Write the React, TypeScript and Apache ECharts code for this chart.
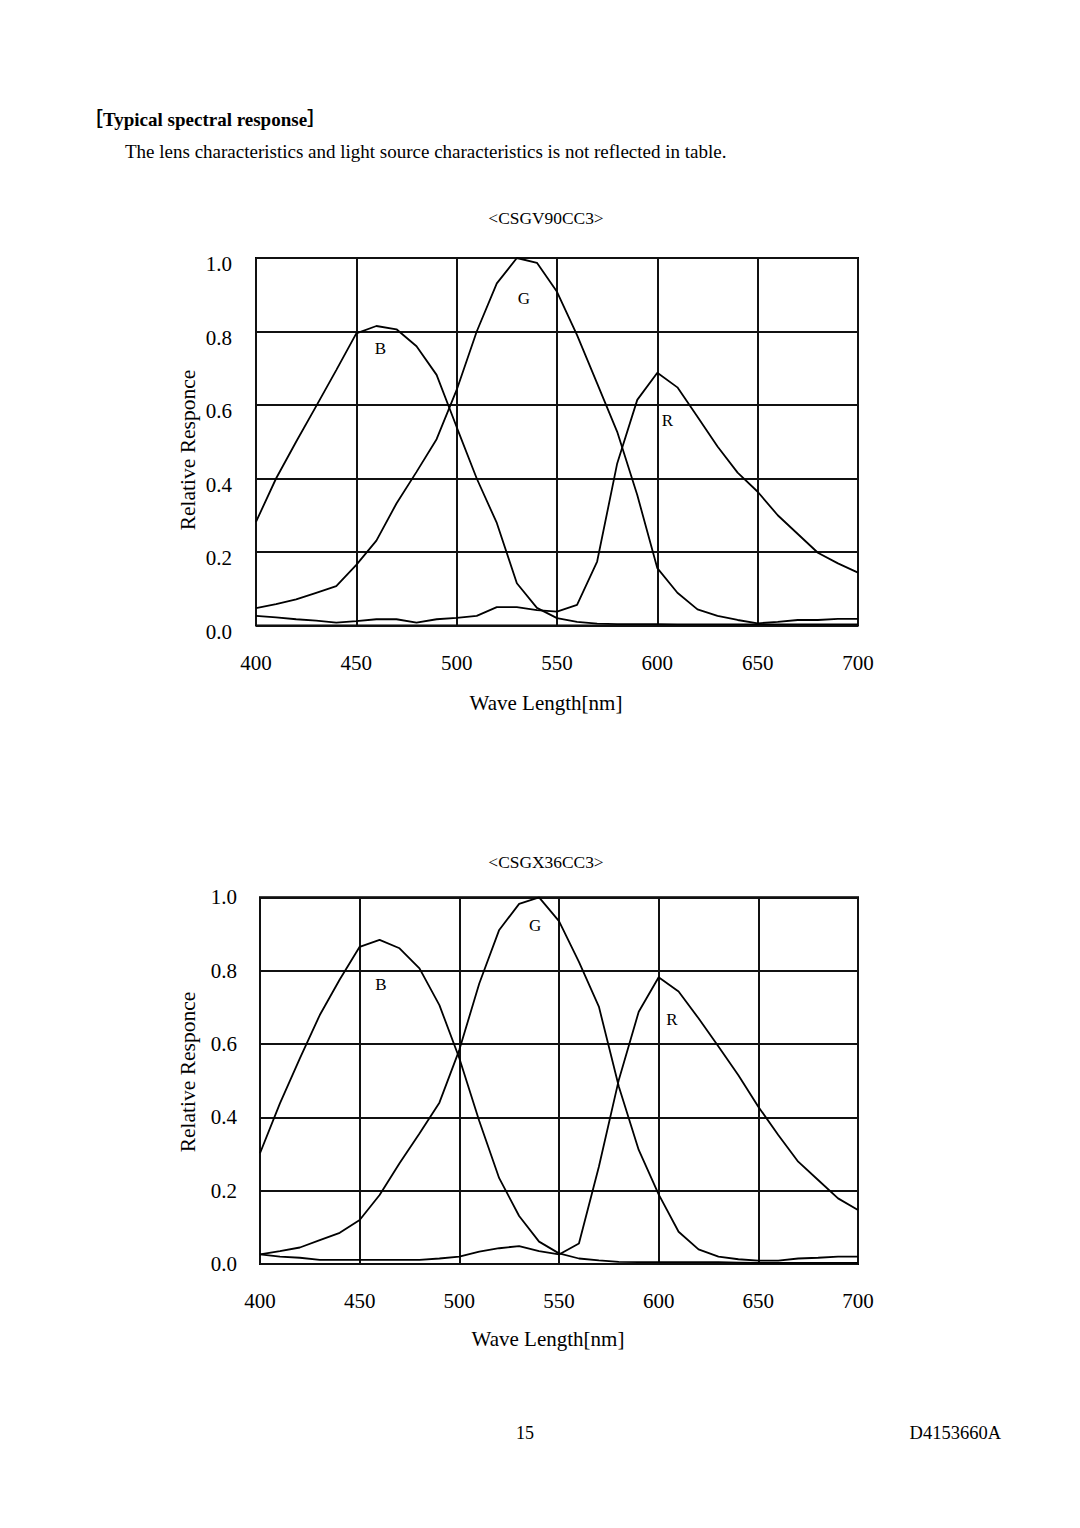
import React, { useEffect, useRef } from "react";
import * as echarts from "echarts";

const wavelengths = [400, 410, 420, 430, 440, 450, 460, 470, 480, 490, 500, 510, 520, 530, 540, 550, 560, 570, 580, 590, 600, 610, 620, 630, 640, 650, 660, 670, 680, 690, 700];

// CSGV90CC3
const topB = [0.282, 0.4, 0.5, 0.597, 0.695, 0.795, 0.815, 0.806, 0.76, 0.682, 0.54, 0.4, 0.279, 0.115, 0.048, 0.02, 0.01, 0.005, 0.004, 0.004, 0.004, 0.003, 0.003, 0.003, 0.003, 0.003, 0.003, 0.003, 0.003, 0.003, 0.003];
const topG = [0.047, 0.058, 0.071, 0.089, 0.107, 0.165, 0.231, 0.332, 0.418, 0.507, 0.641, 0.8, 0.931, 1.0, 0.987, 0.908, 0.79, 0.659, 0.527, 0.355, 0.156, 0.089, 0.044, 0.026, 0.015, 0.006, 0.01, 0.015, 0.015, 0.018, 0.018];
const topR = [0.026, 0.022, 0.017, 0.013, 0.008, 0.012, 0.017, 0.017, 0.008, 0.017, 0.021, 0.026, 0.05, 0.05, 0.042, 0.038, 0.056, 0.174, 0.441, 0.614, 0.688, 0.648, 0.568, 0.487, 0.416, 0.364, 0.3, 0.249, 0.198, 0.169, 0.144];

// CSGX36CC3
const botB = [0.302, 0.438, 0.561, 0.679, 0.776, 0.865, 0.884, 0.861, 0.806, 0.706, 0.561, 0.39, 0.234, 0.131, 0.061, 0.029, 0.015, 0.01, 0.006, 0.005, 0.005, 0.005, 0.005, 0.005, 0.004, 0.003, 0.003, 0.003, 0.003, 0.003, 0.003];
const botG = [0.026, 0.035, 0.045, 0.065, 0.085, 0.12, 0.188, 0.275, 0.356, 0.44, 0.584, 0.765, 0.911, 0.982, 1.0, 0.935, 0.824, 0.702, 0.484, 0.311, 0.19, 0.088, 0.04, 0.02, 0.013, 0.009, 0.009, 0.015, 0.017, 0.02, 0.02];
const botR = [0.026, 0.02, 0.017, 0.011, 0.011, 0.011, 0.011, 0.011, 0.011, 0.015, 0.02, 0.034, 0.043, 0.049, 0.035, 0.026, 0.056, 0.265, 0.502, 0.688, 0.782, 0.743, 0.67, 0.593, 0.515, 0.429, 0.352, 0.279, 0.229, 0.179, 0.147];

// curve label anchors [name, wavelength, response]
const topLabels: [string, number, number][] = [["B", 462, 0.755], ["G", 533.5, 0.891], ["R", 605, 0.557]];
const botLabels: [string, number, number][] = [["B", 460.7, 0.761], ["G", 538, 0.924], ["R", 606.7, 0.668]];

const FONT = "Liberation Serif";

function pairs(v: number[]) {
  return wavelengths.map((w, i) => [w, v[i]]);
}

export default function App() {
  const ref = useRef<HTMLDivElement>(null);
  useEffect(() => {
    if (!ref.current) return;
    const chart = echarts.init(ref.current, null, { renderer: "svg" });

    const mkX = (gridIndex: number, margin: number) => ({
      type: "value",
      gridIndex,
      min: 400,
      max: 700,
      interval: 50,
      axisLine: { show: false },
      axisTick: { show: false },
      axisLabel: { color: "#000", fontFamily: FONT, fontSize: 21, margin },
      splitLine: { show: true, lineStyle: { color: "#111", width: 2 } },
    });
    const mkY = (gridIndex: number, shiftDown: boolean) => ({
      type: "value",
      gridIndex,
      min: 0,
      max: 1,
      interval: 0.2,
      axisLine: { show: false },
      axisTick: { show: false },
      axisLabel: shiftDown
        ? {
            color: "#000",
            fontFamily: FONT,
            fontSize: 21,
            margin: 24,
            verticalAlign: "top",
            lineHeight: 12,
            formatter: (v: number) => v.toFixed(1),
          }
        : {
            color: "#000",
            fontFamily: FONT,
            fontSize: 21,
            margin: 23,
            formatter: (v: number) => v.toFixed(1),
          },
      splitLine: { show: true, lineStyle: { color: "#111", width: 2 } },
    });

    const line = (name: string, data: number[], idx: number, label: [string, number, number]) => ({
      type: "line",
      name,
      xAxisIndex: idx,
      yAxisIndex: idx,
      data: pairs(data),
      symbol: "none",
      lineStyle: { color: "#000", width: 1.8 },
      silent: true,
      markPoint: {
        symbol: "circle",
        symbolSize: 0,
        silent: true,
        label: {
          show: true,
          position: "inside",
          color: "#000",
          fontFamily: FONT,
          fontSize: 17,
          formatter: (p: any) => p.name,
        },
        data: [{ name: label[0], coord: [label[1], label[2]] }],
      },
    });

    const txt = (text: string, x: number, y: number, fontSize: number, opts: any = {}) => ({
      type: "text",
      x,
      y,
      rotation: opts.rotation || 0,
      style: {
        text,
        fill: "#000",
        fontFamily: opts.family || FONT,
        fontSize,
        fontWeight: opts.bold ? "bold" : "normal",
        align: opts.align || "center",
        verticalAlign: "middle",
      },
    });

    chart.setOption({
      animation: false,
      backgroundColor: "#fff",
      grid: [
        { left: 256, top: 258, width: 602, height: 367.5, show: true, borderColor: "#000", borderWidth: 2 },
        { left: 260, top: 897.3, width: 598, height: 366.7, show: true, borderColor: "#000", borderWidth: 2 },
      ],
      xAxis: [mkX(0, 27), mkX(1, 26)],
      yAxis: [mkY(0, true), mkY(1, false)],
      series: [
        line("B", topB, 0, topLabels[0]),
        line("G", topG, 0, topLabels[1]),
        line("R", topR, 0, topLabels[2]),
        line("B", botB, 1, botLabels[0]),
        line("G", botG, 1, botLabels[1]),
        line("R", botR, 1, botLabels[2]),
      ],
      graphic: [
        txt("［Typical spectral response］", 84, 119, 19, { bold: true, align: "left", family: "'Liberation Serif', 'Noto Sans CJK JP'" }),
        txt("The lens characteristics and light source characteristics is not reflected in table.", 125, 151, 19, { align: "left" }),
        txt("<CSGV90CC3>", 546, 218, 17.4),
        txt("<CSGX36CC3>", 546, 862, 17.4),
        txt("Wave Length[nm]", 546, 703, 21),
        txt("Wave Length[nm]", 548, 1339, 21),
        txt("Relative Responce", 188, 450, 21.5, { rotation: Math.PI / 2 }),
        txt("Relative Responce", 188, 1072, 21.5, { rotation: Math.PI / 2 }),
        txt("15", 525, 1433, 18),
        txt("D4153660A", 1001, 1433, 18.5, { align: "right" }),
      ],
    });
    return () => chart.dispose();
  }, []);
  return <div ref={ref} style={{ position: "absolute", left: 0, top: 0, width: 1080, height: 1528 }} />;
}
